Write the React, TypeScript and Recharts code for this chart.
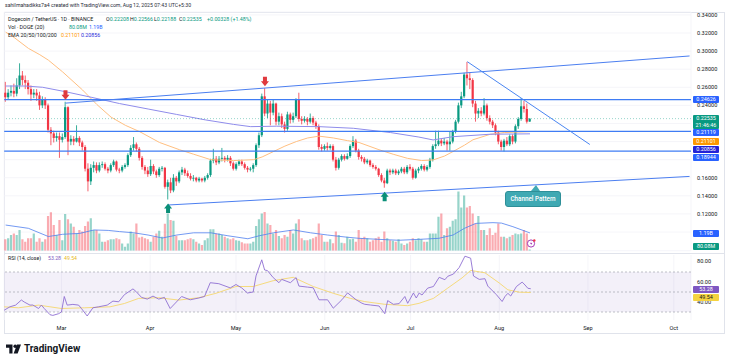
import React from "react";
import {
  ComposedChart,
  Bar,
  Line,
  XAxis,
  YAxis,
  CartesianGrid,
  ReferenceLine,
  ReferenceDot,
  ReferenceArea,
  Cell,
} from "recharts";

// DOGE/USDT daily candles [open, high, low, close], first day 2025-02-09
const febCandles = [
  [0.254, 0.266, 0.244, 0.249], [0.249, 0.258, 0.246, 0.254], [0.254, 0.262, 0.25, 0.256],
  [0.256, 0.264, 0.249, 0.253], [0.253, 0.27, 0.25, 0.262], [0.262, 0.2865, 0.258, 0.273],
  [0.273, 0.278, 0.262, 0.268], [0.268, 0.273, 0.258, 0.265], [0.265, 0.268, 0.252, 0.258],
  [0.258, 0.262, 0.245, 0.252], [0.252, 0.258, 0.248, 0.254], [0.254, 0.258, 0.245, 0.251],
  [0.251, 0.255, 0.235, 0.24], [0.24, 0.25, 0.237, 0.246], [0.246, 0.249, 0.236, 0.24],
  [0.24, 0.242, 0.21, 0.213], [0.213, 0.216, 0.196, 0.209], [0.209, 0.212, 0.199, 0.204],
  [0.204, 0.21, 0.2, 0.206], [0.206, 0.21, 0.182, 0.202],
];
const marCandles = [
  [0.202, 0.209, 0.199, 0.205], [0.205, 0.244, 0.203, 0.238], [0.238, 0.239, 0.185, 0.2],
  [0.2, 0.207, 0.196, 0.203], [0.203, 0.206, 0.196, 0.2], [0.2, 0.218, 0.199, 0.204],
  [0.204, 0.206, 0.195, 0.199], [0.199, 0.201, 0.19, 0.194], [0.194, 0.196, 0.167, 0.17],
  [0.17, 0.176, 0.145, 0.156], [0.156, 0.175, 0.152, 0.171], [0.171, 0.178, 0.166, 0.174],
  [0.174, 0.177, 0.165, 0.168], [0.168, 0.177, 0.166, 0.174], [0.174, 0.178, 0.171, 0.175],
  [0.175, 0.177, 0.168, 0.17], [0.17, 0.172, 0.165, 0.168], [0.168, 0.176, 0.166, 0.174],
  [0.174, 0.18, 0.172, 0.178], [0.178, 0.179, 0.167, 0.169], [0.169, 0.171, 0.165, 0.168],
  [0.168, 0.174, 0.166, 0.172], [0.172, 0.176, 0.17, 0.174], [0.174, 0.187, 0.172, 0.185],
  [0.185, 0.196, 0.183, 0.193], [0.193, 0.205, 0.19, 0.197], [0.197, 0.199, 0.189, 0.192],
  [0.192, 0.194, 0.179, 0.182], [0.182, 0.184, 0.169, 0.172], [0.172, 0.174, 0.164, 0.168],
  [0.168, 0.172, 0.161, 0.164],
];
const aprCandles = [
  [0.164, 0.18, 0.162, 0.173], [0.173, 0.175, 0.164, 0.167], [0.167, 0.169, 0.16, 0.163],
  [0.163, 0.172, 0.161, 0.17], [0.17, 0.173, 0.167, 0.171], [0.171, 0.172, 0.148, 0.15],
  [0.15, 0.158, 0.136, 0.155], [0.155, 0.16, 0.143, 0.146], [0.146, 0.164, 0.144, 0.16],
  [0.16, 0.162, 0.151, 0.156], [0.156, 0.168, 0.154, 0.166], [0.166, 0.172, 0.163, 0.169],
  [0.169, 0.171, 0.162, 0.165], [0.165, 0.168, 0.16, 0.162], [0.162, 0.165, 0.157, 0.159],
  [0.159, 0.163, 0.156, 0.16], [0.16, 0.161, 0.155, 0.157], [0.157, 0.161, 0.155, 0.159],
  [0.159, 0.16, 0.155, 0.157], [0.157, 0.162, 0.155, 0.16], [0.16, 0.165, 0.158, 0.163],
  [0.163, 0.181, 0.161, 0.179], [0.179, 0.192, 0.176, 0.181], [0.181, 0.184, 0.174, 0.177],
  [0.177, 0.184, 0.175, 0.181], [0.181, 0.193, 0.178, 0.182], [0.182, 0.184, 0.177, 0.18],
  [0.18, 0.185, 0.178, 0.182], [0.182, 0.184, 0.173, 0.176], [0.176, 0.178, 0.168, 0.17],
];
const mayCandles = [
  [0.17, 0.177, 0.168, 0.175], [0.175, 0.18, 0.173, 0.178], [0.178, 0.18, 0.173, 0.175],
  [0.175, 0.177, 0.169, 0.171], [0.171, 0.173, 0.166, 0.169], [0.169, 0.172, 0.167, 0.17],
  [0.17, 0.176, 0.166, 0.174], [0.174, 0.198, 0.172, 0.196], [0.196, 0.21, 0.193, 0.207],
  [0.207, 0.253, 0.205, 0.25], [0.25, 0.259, 0.228, 0.231], [0.231, 0.246, 0.226, 0.242],
  [0.242, 0.245, 0.218, 0.232], [0.232, 0.247, 0.229, 0.242], [0.242, 0.243, 0.218, 0.222],
  [0.222, 0.232, 0.218, 0.228], [0.228, 0.231, 0.215, 0.219], [0.219, 0.222, 0.21, 0.214],
  [0.214, 0.233, 0.212, 0.23], [0.23, 0.232, 0.22, 0.224], [0.224, 0.232, 0.221, 0.228],
  [0.228, 0.248, 0.226, 0.246], [0.246, 0.254, 0.222, 0.225], [0.225, 0.228, 0.219, 0.223],
  [0.223, 0.228, 0.221, 0.225], [0.225, 0.227, 0.218, 0.222], [0.222, 0.231, 0.22, 0.226],
  [0.226, 0.228, 0.218, 0.221], [0.221, 0.223, 0.214, 0.217], [0.217, 0.219, 0.191, 0.194],
  [0.194, 0.197, 0.189, 0.192],
];
const junCandles = [
  [0.192, 0.197, 0.19, 0.195], [0.195, 0.199, 0.19, 0.193], [0.193, 0.197, 0.191, 0.195],
  [0.195, 0.197, 0.178, 0.18], [0.18, 0.183, 0.168, 0.171], [0.171, 0.182, 0.169, 0.18],
  [0.18, 0.186, 0.178, 0.184], [0.184, 0.186, 0.179, 0.181], [0.181, 0.187, 0.18, 0.184],
  [0.184, 0.197, 0.182, 0.195], [0.195, 0.206, 0.193, 0.201], [0.201, 0.203, 0.188, 0.19],
  [0.19, 0.192, 0.18, 0.183], [0.183, 0.185, 0.178, 0.181], [0.181, 0.183, 0.175, 0.177],
  [0.177, 0.181, 0.175, 0.179], [0.179, 0.18, 0.172, 0.174], [0.174, 0.176, 0.17, 0.172],
  [0.172, 0.174, 0.168, 0.17], [0.17, 0.171, 0.161, 0.163], [0.163, 0.165, 0.155, 0.157],
  [0.157, 0.16, 0.149, 0.154], [0.154, 0.17, 0.153, 0.168], [0.168, 0.17, 0.163, 0.166],
  [0.166, 0.17, 0.164, 0.168], [0.168, 0.17, 0.163, 0.165], [0.165, 0.169, 0.163, 0.167],
  [0.167, 0.172, 0.165, 0.17], [0.17, 0.172, 0.164, 0.166], [0.166, 0.174, 0.164, 0.172],
];
const julCandles = [
  [0.172, 0.175, 0.168, 0.17], [0.17, 0.172, 0.158, 0.16], [0.16, 0.17, 0.159, 0.168],
  [0.168, 0.172, 0.165, 0.17], [0.17, 0.175, 0.168, 0.173], [0.173, 0.175, 0.167, 0.169],
  [0.169, 0.174, 0.167, 0.172], [0.172, 0.182, 0.17, 0.18], [0.18, 0.197, 0.178, 0.195],
  [0.195, 0.212, 0.192, 0.197], [0.197, 0.212, 0.195, 0.201], [0.201, 0.203, 0.195, 0.198],
  [0.198, 0.204, 0.196, 0.2], [0.2, 0.202, 0.19, 0.197], [0.197, 0.211, 0.19, 0.2],
  [0.2, 0.213, 0.198, 0.211], [0.211, 0.224, 0.209, 0.222], [0.222, 0.243, 0.22, 0.24],
  [0.24, 0.255, 0.237, 0.25], [0.25, 0.276, 0.248, 0.274], [0.274, 0.288, 0.262, 0.27],
  [0.27, 0.276, 0.258, 0.268], [0.268, 0.27, 0.238, 0.242], [0.242, 0.245, 0.222, 0.231],
  [0.231, 0.237, 0.226, 0.234], [0.234, 0.238, 0.228, 0.231], [0.231, 0.248, 0.229, 0.24],
  [0.24, 0.242, 0.223, 0.226], [0.226, 0.229, 0.219, 0.222], [0.222, 0.224, 0.215, 0.218],
  [0.218, 0.22, 0.207, 0.21],
];
const augCandles = [
  [0.21, 0.212, 0.197, 0.2], [0.2, 0.202, 0.19, 0.194], [0.194, 0.203, 0.189, 0.201],
  [0.201, 0.205, 0.195, 0.197], [0.197, 0.208, 0.195, 0.206], [0.206, 0.208, 0.197, 0.2],
  [0.2, 0.219, 0.198, 0.217], [0.217, 0.227, 0.214, 0.225], [0.225, 0.248, 0.223, 0.239],
  [0.239, 0.245, 0.232, 0.236], [0.236, 0.242, 0.22, 0.222], [0.22208, 0.22566, 0.22188, 0.22535],
];

// daily volume, billions of DOGE
const volumes = [
  0.76, 0.83, 1.05, 1.16, 1.05, 1.39, 0.76, 0.6, 0.83, 0.83, 1.16, 0.6, 0.83, 0.6, 0.76, 2.33, 2.57, 1.72, 1.05, 2.06,
  0.7, 2.46, 2.1, 1.83, 1.61, 1.16, 1.39, 1.28, 1.66, 1.95, 2.17, 1.39, 1.39, 1.16, 0.6, 0.6, 0.7, 0.76, 0.76, 0.83,
  0.76, 0.49, 0.27, 0.49, 1.28, 1.16, 1.83, 0.89, 0.94, 0.83, 0.76, 0.6, 0.94, 1.16, 1.34, 0.94, 1.8, 2.5, 2.06, 2.0,
  1.0, 0.7, 0.7, 0.7, 0.76, 0.83, 0.76, 0.6, 0.49, 0.38, 0.7, 0.83, 1.43, 1.43, 1.16, 1.16, 1.05, 0.94, 0.83, 0.76,
  0.83, 0.7, 0.67, 0.56, 0.49, 0.49, 0.49, 0.6, 1.66, 2.1, 2.5, 2.6, 1.83, 1.72, 1.16, 1.39, 0.98, 0.83, 1.05, 0.94,
  1.39, 1.16, 1.83, 2.1, 0.83, 0.7, 0.7, 0.76, 0.83, 0.94, 1.83, 1.05, 0.6, 0.6, 0.76, 0.5, 1.28, 1.05, 0.54, 0.5,
  0.94, 0.76, 0.8, 0.6, 1.39, 0.83, 0.94, 0.83, 0.6, 0.7, 0.83, 0.94, 0.6, 1.28, 0.83, 0.7, 0.67, 0.6, 0.76, 0.49,
  0.38, 0.49, 0.6, 0.83, 0.7, 0.83, 0.76, 0.6, 0.6, 1.16, 1.16, 1.16, 2.28, 2.5, 1.05, 1.5, 1.61, 2.0, 2.1, 3.96,
  2.9, 3.7, 2.9, 3.0, 2.5, 1.83, 2.33, 1.39, 1.39, 1.05, 1.5, 1.05, 1.2, 1.83, 0.94, 0.94, 0.83, 0.94, 1.05, 1.16,
  1.1, 1.16, 1.39, 1.16, 0.08,
];

// indicator readings as [day index, value]
const volMaPts = [
  [0, 1.72], [8, 1.5], [15, 0.95], [20, 1.1], [26, 1.16], [31, 1.39], [36, 1.36], [40, 1.28], [45, 1.2],
  [50, 1.05], [55, 0.85], [60, 1.05], [66, 1.2], [72, 1.2], [78, 1.0], [85, 0.8], [89, 1.0], [94, 1.2],
  [101, 1.39], [107, 1.2], [113, 1.05], [120, 0.9], [124, 0.83], [131, 0.76], [138, 0.7], [145, 0.76],
  [152, 0.83], [157, 1.05], [161, 1.5], [165, 1.83], [171, 1.88], [174, 1.85], [178, 1.61], [184, 1.19],
];
const emaOrangePts = [
  [0, 0.321], [3, 0.315], [8, 0.303], [12, 0.296], [15, 0.29], [20, 0.277], [27, 0.257], [32, 0.241],
  [37, 0.227], [42, 0.218], [47, 0.211], [54, 0.199], [61, 0.191], [66, 0.186], [72, 0.18], [80, 0.179],
  [87, 0.18], [90, 0.183], [94, 0.189], [98, 0.195], [102, 0.2], [106, 0.204], [110, 0.206], [115, 0.204],
  [120, 0.201], [124, 0.199], [131, 0.191], [136, 0.186], [141, 0.1815], [146, 0.179], [150, 0.1797],
  [154, 0.184], [157, 0.189], [161, 0.196], [164, 0.202], [170, 0.208], [175, 0.21], [180, 0.2105], [184, 0.21101],
];
const emaBluePts = [
  [0, 0.2614], [7, 0.2614], [13, 0.26], [21, 0.2551], [30, 0.249], [40, 0.242], [50, 0.236], [60, 0.23],
  [70, 0.224], [80, 0.219], [86, 0.2165], [95, 0.217], [110, 0.2165], [122, 0.2147], [135, 0.21],
  [145, 0.205], [150, 0.2018], [157, 0.2054], [170, 0.2081], [184, 0.20856],
];
const rsiPts = [
  [0, 31.8], [2, 35.2], [4, 36.9], [6, 42], [7, 40], [9, 36.9], [10, 37], [12, 33.5], [13, 36.9], [14, 33.5],
  [16, 27.3], [17, 26.6], [19, 28.3], [20, 30], [21, 45.5], [22, 36.9], [24, 37.6], [26, 36.9], [27, 33.5],
  [29, 26], [31, 34.2], [33, 35.2], [36, 36.9], [38, 40.9], [40, 40.2], [42, 47.3], [45, 53.1], [46, 50.7],
  [48, 44.6], [50, 42.9], [52, 45.9], [54, 42.9], [56, 44.6], [58, 33.5], [62, 45.5], [65, 42.2], [68, 44],
  [70, 45.5], [72, 59.3], [75, 58.3], [79, 54.1], [81, 57.5], [83, 54.1], [85, 49], [87, 50], [88, 66.1],
  [90, 82.2], [91, 72], [92, 71.4], [94, 64.4], [96, 59.3], [97, 62.6], [100, 59.3], [102, 64.4], [103, 55.9],
  [106, 54.9], [108, 54.2], [110, 42.2], [113, 42.2], [115, 33.8], [118, 42.2], [120, 49.1], [123, 42.2],
  [125, 38.8], [126, 37.7], [128, 37], [131, 36], [133, 28.3], [134, 41.4], [136, 37.7], [138, 38.4],
  [140, 45.5], [141, 38.7], [143, 49], [144, 44], [145, 49], [146, 47], [148, 53.9], [150, 55.5], [152, 64.7],
  [154, 62.3], [155, 65.7], [157, 68], [159, 74.5], [161, 85.8], [163, 83.8], [164, 66], [166, 62.6],
  [168, 63.3], [169, 55.9], [172, 47.3], [174, 40.5], [175, 45.5], [176, 48.7], [177, 46], [179, 55.5],
  [181, 59.9], [182, 57], [183, 53.7], [184, 53.28],
];
const rsiMaPts = [
  [0, 35.2], [5, 34.2], [12, 36.9], [20, 33.5], [28, 34.2], [37, 35.2], [42, 38.5], [47, 43.6], [54, 44.3],
  [61, 41.9], [68, 44.3], [74, 48.7], [81, 55.5], [87, 55.5], [94, 61.3], [101, 64.7], [108, 55.5],
  [115, 48.7], [121, 43.6], [126, 40.4], [133, 37.7], [141, 36.3], [145, 38.7], [150, 43.6], [155, 53.9],
  [160, 64.1], [163, 71.6], [168, 69.2], [173, 59], [176, 52.2], [180, 49.8], [184, 49.54],
];

const levels = [0.24626, 0.21119, 0.18944];
const priceTicks = [0.1, 0.12, 0.14, 0.16, 0.18, 0.2, 0.22, 0.24, 0.26, 0.28, 0.3, 0.32, 0.34];
// tick labels that sit under the price tags on the right axis
const coveredTicks = [0.1, 0.18, 0.2, 0.22];
const rsiTicks = [40, 60];
const monthTicks = ["2025-03-01", "2025-04-01", "2025-05-01", "2025-06-01", "2025-07-01", "2025-08-01", "2025-09-01", "2025-10-01"];
const monthNames = ["Jan", "Feb", "Mar", "Apr", "May", "Jun", "Jul", "Aug", "Sep", "Oct", "Nov", "Dec"];

const UP = "#089981";
const DOWN = "#F23645";
const START = Date.UTC(2025, 1, 9);
const DAYS = 241;

const candles = [...febCandles, ...marCandles, ...aprCandles, ...mayCandles, ...junCandles, ...julCandles, ...augCandles];
const dayLabel = (i: number) => new Date(START + i * 86400000).toISOString().slice(0, 10);
const toMap = (pts: number[][]) => new Map(pts.map(([i, v]) => [i, v]));
const volMaMap = toMap(volMaPts);
const emaOMap = toMap(emaOrangePts);
const emaBMap = toMap(emaBluePts);
const rsiMap = toMap(rsiPts);
const rsiMaMap = toMap(rsiMaPts);

const rows = Array.from({ length: DAYS }, (_, i) => {
  const k = candles[i];
  return {
    date: dayLabel(i),
    range: k ? [k[2], k[1]] : null,
    o: k ? k[0] : null,
    h: k ? k[1] : null,
    l: k ? k[2] : null,
    c: k ? k[3] : null,
    up: k ? k[3] >= k[0] : true,
    vol: volumes[i] ?? null,
    volMa: volMaMap.get(i) ?? null,
    emaO: emaOMap.get(i) ?? null,
    emaB: emaBMap.get(i) ?? null,
    rsi: rsiMap.get(i) ?? null,
    rsiMa: rsiMaMap.get(i) ?? null,
  };
});

const Candle = (props: any) => {
  const { x, y, width, height, payload } = props;
  if (!payload || payload.o == null || height == null) return null;
  const { o, h, l, c } = payload;
  const color = c >= o ? UP : DOWN;
  const k = h > l ? height / (h - l) : 0;
  const cx = x + width / 2;
  const top = y + (h - Math.max(o, c)) * k;
  const bot = y + (h - Math.min(o, c)) * k;
  return (
    <g>
      <line x1={cx} x2={cx} y1={y} y2={y + height} stroke={color} strokeWidth={0.8} />
      <rect x={cx - 1.1} y={top} width={2.2} height={Math.max(0.8, bot - top)} fill={color} />
    </g>
  );
};

const ArrowDown = ({ cx, cy }: any) => (
  <polygon
    transform={`translate(${cx},${cy - 2})`}
    points="0,0 -4,-5 -2,-5 -2,-9.5 2,-9.5 2,-5 4,-5"
    fill="#E03A3E"
  />
);
const ArrowUp = ({ cx, cy }: any) => (
  <polygon
    transform={`translate(${cx},${cy + 4})`}
    points="0,0 -4,5 -2,5 -2,9.5 2,9.5 2,5 4,5"
    fill="#0A8F78"
  />
);

// RSI axis label drawn through the RSI chart's own y scale
const RsiTick = ({ viewBox, value }: any) =>
  viewBox ? (
    <text x={viewBox.x + viewBox.width + 6} y={viewBox.y} dy="0.35em" fontSize={5.6} fill="#131722">
      {value}
    </text>
  ) : null;

const Tag = ({ top, bg, color = "#fff", children, h = 7 }: any) => (
  <div
    style={{
      position: "absolute", left: 693, top, width: 26, height: h, background: bg, color,
      fontSize: 5.4, lineHeight: "7px", textAlign: "center", borderRadius: 1,
    }}
  >
    {children}
  </div>
);

const T = ({ left, top, color = "#131722", size = 5.3, children, weight = 400 }: any) => (
  <div style={{ position: "absolute", left, top, color, fontSize: size, fontWeight: weight, whiteSpace: "nowrap", lineHeight: 1 }}>
    {children}
  </div>
);

const tickStyle = { fontSize: 5.6, fill: "#131722" };
const priceLabel = (v: number) => (coveredTicks.some((t) => Math.abs(t - v) < 1e-9) ? "" : v.toFixed(5));

export default function App() {
  return (
    <div style={{ position: "absolute", left: 0, top: 0, width: 730, height: 363, background: "#fff", fontFamily: "Roboto, sans-serif", overflow: "hidden" }}>
      <div style={{ position: "absolute", left: 4, top: 12, width: 721, height: 322, border: "1px solid #E0E3EB", boxSizing: "border-box" }} />
      <div style={{ position: "absolute", left: 4, top: 253, width: 721, height: 1, background: "#E0E3EB" }} />

      <div style={{ position: "absolute", left: 0, top: 0 }}>
        <ComposedChart width={730} height={253} data={rows} margin={{ top: 12, right: 0, bottom: 2.3, left: 4.2 }}>
          <CartesianGrid xAxisId="c" yAxisId="p" stroke="#F2F3F7" strokeWidth={0.8} />
          <XAxis xAxisId="c" dataKey="date" ticks={monthTicks} interval={0} height={0} tick={false} axisLine={false} tickLine={false} />
          <XAxis xAxisId="v" dataKey="date" hide />
          <YAxis
            yAxisId="p" orientation="right" width={39} domain={[0.0794, 0.3432]} allowDataOverflow
            ticks={priceTicks} tickFormatter={priceLabel} tick={tickStyle}
            axisLine={false} tickLine={false} tickSize={0} tickMargin={6} interval={0}
          />
          <YAxis yAxisId="v" hide domain={[0, 16]} allowDataOverflow />

          <Bar xAxisId="v" yAxisId="v" dataKey="vol" barSize={2.2} isAnimationActive={false}>
            {rows.map((r, i) => (
              <Cell key={i} fill={r.up ? "rgba(8,153,129,0.42)" : "rgba(242,54,69,0.42)"} />
            ))}
          </Bar>
          <Line xAxisId="v" yAxisId="v" dataKey="volMa" stroke="#4F7FEF" strokeWidth={0.8} dot={false} connectNulls isAnimationActive={false} />

          <Line xAxisId="c" yAxisId="p" dataKey="emaO" stroke="#FFBF80" strokeWidth={1} dot={false} connectNulls isAnimationActive={false} />
          <Line xAxisId="c" yAxisId="p" dataKey="emaB" stroke="#8F8CEB" strokeWidth={1} dot={false} connectNulls isAnimationActive={false} />

          <ReferenceLine xAxisId="c" yAxisId="p" y={0.22535} stroke={UP} strokeOpacity={0.6} strokeDasharray="1 2" strokeWidth={0.7} />
          <Bar xAxisId="c" yAxisId="p" dataKey="range" barSize={2.2} shape={(p: any) => <Candle {...p} />} isAnimationActive={false} />

          {levels.map((v) => (
            <ReferenceLine key={v} xAxisId="c" yAxisId="p" y={v} stroke="#3F7CF4" strokeWidth={1.3} />
          ))}
          <ReferenceLine xAxisId="c" yAxisId="p" stroke="#4C7FF0" strokeWidth={1}
            segment={[{ x: dayLabel(21), y: 0.2425 }, { x: dayLabel(240), y: 0.2946 }]} />
          <ReferenceLine xAxisId="c" yAxisId="p" stroke="#4C7FF0" strokeWidth={1}
            segment={[{ x: dayLabel(57), y: 0.1299 }, { x: dayLabel(240), y: 0.1615 }]} />
          <ReferenceLine xAxisId="c" yAxisId="p" stroke="#4A86F2" strokeWidth={1}
            segment={[{ x: dayLabel(162), y: 0.2883 }, { x: dayLabel(205), y: 0.1968 }]} />

          {[21, 91].map((i) => (
            <ReferenceDot key={i} xAxisId="c" yAxisId="p" x={dayLabel(i)} y={candles[i][1]} shape={(p: any) => <ArrowDown {...p} />} />
          ))}
          {[57, 133].map((i) => (
            <ReferenceDot key={i} xAxisId="c" yAxisId="p" x={dayLabel(i)} y={candles[i][2]} shape={(p: any) => <ArrowUp {...p} />} />
          ))}
        </ComposedChart>
      </div>

      <div style={{ position: "absolute", left: 0, top: 253 }}>
        <ComposedChart width={730} height={81} data={rows} margin={{ top: 2, right: 0, bottom: 0, left: 4.2 }}>
          <CartesianGrid horizontal={false} stroke="#F2F3F7" strokeWidth={0.8} />
          <XAxis
            dataKey="date" ticks={monthTicks} interval={0} height={14} axisLine={false} tickLine={false}
            tickSize={0} tickMargin={6} tick={tickStyle}
            tickFormatter={(d: string) => monthNames[Number(d.slice(5, 7)) - 1]}
          />
          <YAxis orientation="right" width={39} domain={[22, 87]} allowDataOverflow tick={false} axisLine={false} tickLine={false} />
          <ReferenceArea y1={30} y2={70} fill="#7E57C2" fillOpacity={0.09} stroke="none" />
          <ReferenceLine y={70} stroke="#A3A6AF" strokeDasharray="2 2" strokeWidth={0.7} />
          <ReferenceLine y={50} stroke="#A3A6AF" strokeDasharray="2 2" strokeWidth={0.7} />
          <ReferenceLine y={30} stroke="#A3A6AF" strokeDasharray="2 2" strokeWidth={0.7} />
          {rsiTicks.map((v) => (
            <ReferenceLine
              key={v} y={v} stroke="#000" strokeOpacity={0} ifOverflow="visible"
              label={(p: any) => <RsiTick {...p} value={v.toFixed(2)} />}
            />
          ))}
          <Line dataKey="rsiMa" stroke="#F5D76E" strokeWidth={0.9} dot={false} connectNulls isAnimationActive={false} />
          <Line dataKey="rsi" stroke="#8E6FD3" strokeWidth={0.9} dot={false} connectNulls isAnimationActive={false} />
        </ComposedChart>
      </div>

      {/* header and legends */}
      <T left={5} top={3} size={5.2} color="#2A2E39">sahilmahadikks7a4 created with TradingView.com, Aug 12, 2025 07:43 UTC+5:30</T>
      <T left={8} top={17.4}>Dogecoin / TetherUS · 1D · BINANCE</T>
      <T left={106} top={17.4}>O<span style={{ color: UP }}>0.22208</span></T>
      <T left={130} top={17.4}>H<span style={{ color: UP }}>0.22566</span></T>
      <T left={154} top={17.4}>L<span style={{ color: UP }}>0.22188</span></T>
      <T left={179} top={17.4}>C<span style={{ color: UP }}>0.22535</span></T>
      <T left={207} top={17.4} color={UP}>+0.00328 (+1.48%)</T>
      <T left={8} top={24.7}>Vol · DOGE (20)</T>
      <T left={69} top={24.7} color={UP}>80.08M</T>
      <T left={89} top={24.7} color="#2962FF">1.19B</T>
      <T left={8} top={33.1}>EMA 20/50/100/200</T>
      <T left={61} top={33.1} color="#FF9800">0.21101</T>
      <T left={81} top={33.1} color="#2B2BD9">0.20856</T>
      <T left={8} top={255.6} size={5.2}>RSI (14, close)</T>
      <T left={48} top={255.6} size={5.2} color="#7E57C2">53.28</T>
      <T left={64} top={255.6} size={5.2} color="#E8B923">49.54</T>
      <T left={697} top={259.3} size={5.6}>80.00</T>

      {/* axis tags */}
      <Tag top={95.7} bg="#2962FF">0.24626</Tag>
      <Tag top={115} bg={UP} h={14}>0.22535<br />21:46:46</Tag>
      <Tag top={129.2} bg="#2962FF">0.21119</Tag>
      <Tag top={138.3} bg="#FF9800">0.21101</Tag>
      <Tag top={146.3} bg="#2323D6">0.20856</Tag>
      <Tag top={154.2} bg="#2962FF">0.18944</Tag>
      <Tag top={229.5} bg="#2962FF">1.19B</Tag>
      <Tag top={243} bg={UP}>80.08M</Tag>
      <Tag top={285.5} bg="#7E57C2">53.28</Tag>
      <Tag top={293.8} bg="#F5D340" color="#131722">49.54</Tag>

      {/* callout, icon, logo */}
      <svg style={{ position: "absolute", left: 0, top: 0 }} width={730} height={363} pointerEvents="none">
        <polygon points="531,191 536,185 540,191" fill="#3FA9B3" />
        <g transform="translate(527,239)">
          <circle cx={4} cy={4.5} r={3.6} fill="#fff" stroke="#9C27B0" strokeWidth={0.9} />
          <path d="M4.6 2.3 L3 4.8 L4.3 4.8 L3.6 6.8 L5.3 4.1 L4 4.1 Z" fill="#9C27B0" />
          <circle cx={7.3} cy={1.5} r={1.2} fill="#F23645" />
        </g>
        <g transform="translate(6,344.5)" fill="#131722">
          <path d="M0 0H6.5V9H3.3V3.2H0Z" />
          <circle cx={9.2} cy={1.8} r={1.8} />
          <path d="M7.6 9L11 0H15L11.6 9Z" />
        </g>
      </svg>
      <div
        style={{
          position: "absolute", left: 505, top: 190.5, width: 56, height: 16, background: "#3FA9B3",
          border: "0.8px solid #2E8F98", boxSizing: "border-box", borderRadius: 3, color: "#fff",
          fontSize: 6.3, fontWeight: 500, lineHeight: "14.4px", textAlign: "center",
        }}
      >
        Channel Pattern
      </div>
      <T left={24} top={344} size={10} weight={700}>TradingView</T>
    </div>
  );
}
